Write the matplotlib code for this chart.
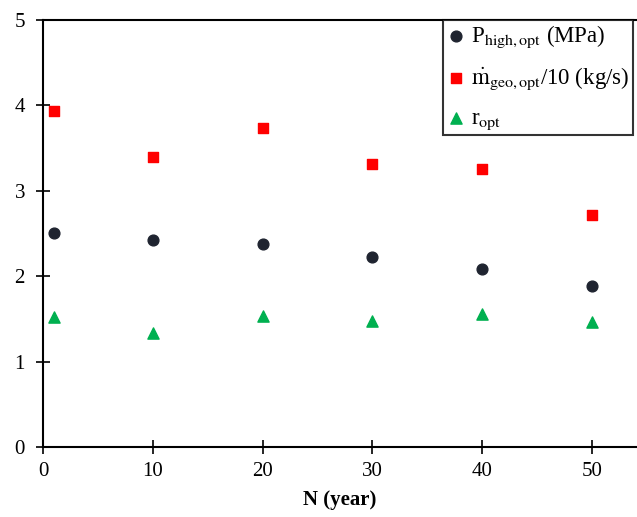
import numpy as np
import matplotlib
matplotlib.use("Agg")
import matplotlib.pyplot as plt

plt.rcParams['font.family'] = ['Liberation Serif', 'DejaVu Serif']
plt.rcParams['mathtext.fontset'] = 'stix'

years = [1, 10, 20, 30, 40, 50]
p_high = [2.51, 2.42, 2.38, 2.22, 2.09, 1.88]
m_geo = [3.94, 3.40, 3.74, 3.31, 3.26, 2.72]
r_opt = [1.52, 1.34, 1.53, 1.47, 1.56, 1.46]

fig = plt.figure(figsize=(6.37, 5.17), dpi=100)
ax = fig.add_axes([0.0675, 0.1354, 0.9325, 0.8259])

ax.scatter(years, p_high, s=60, marker='o', color='#1f2430', zorder=3,
           label=r'P$_{\mathrm{high,opt}}$ (MPa)')
ax.scatter(years, m_geo, s=55, marker='s', color='#ff0000', zorder=3,
           label=r'$\dot{\mathrm{m}}_{\mathrm{geo,opt}}$/10 (kg/s)')
ax.scatter(years, r_opt, s=65, marker='^', color='#00b050', zorder=3,
           label=r'r$_{\mathrm{opt}}$')

ax.set_xlim(0, 54.1)
ax.set_ylim(0, 5)
ax.set_xticks([0, 10, 20, 30, 40, 50])
ax.set_yticks([0, 1, 2, 3, 4, 5])
ax.tick_params(direction='inout', length=10, width=1.2, labelsize=15, pad=6)
ax.tick_params(axis='y', pad=8)
ax.spines['right'].set_visible(False)
for s in ['left', 'bottom', 'top']:
    ax.spines[s].set_linewidth(1.5)

ax.set_xlabel('N (year)', fontsize=15, fontweight='bold', labelpad=6)

leg = ax.legend(loc='upper right', fontsize=16.5, frameon=True, fancybox=False,
                edgecolor='black', borderaxespad=0.0, handletextpad=0.2,
                handlelength=0.9, labelspacing=0.68, borderpad=0.15,
                bbox_to_anchor=(0.9935, 1.0))
leg.get_frame().set_linewidth(1.5)

fig.savefig('out.png', dpi=100)
